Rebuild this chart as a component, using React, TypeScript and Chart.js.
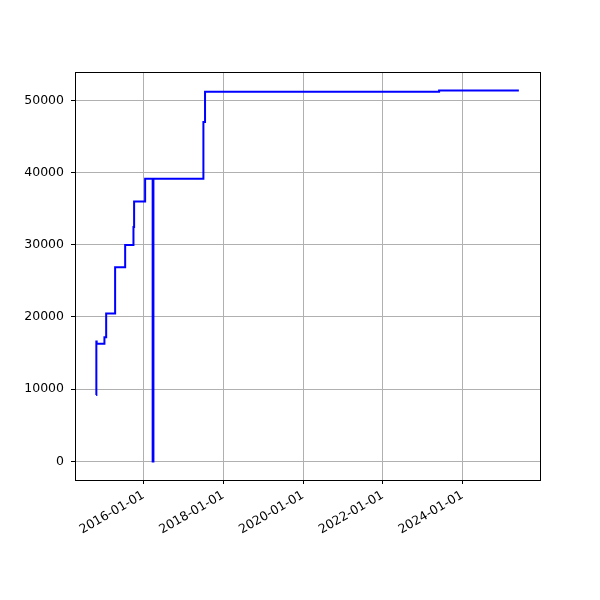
import React, { useEffect, useRef } from "react";
import { Chart, registerables } from "chart.js";

Chart.register(...registerables);

const dates: string[] = [
  "2014-10-23", "2014-10-25", "2014-10-28", "2015-01-07", "2015-01-23",
  "2015-04-15", "2015-07-16", "2015-09-30", "2015-10-06", "2016-01-15",
  "2016-03-24", "2016-03-31", "2017-07-02", "2017-07-17", "2023-06-01",
  "2025-06-01",
];
const values: number[] = [
  9200, 16600, 16300, 17200, 20500,
  26900, 29950, 32450, 36000, 39150,
  0, 39150, 47000, 51200, 51350,
  51350,
];
const xTickLabels: string[] = ["2016-01-01", "2018-01-01", "2020-01-01", "2022-01-01", "2024-01-01"];
const yTickValues: number[] = [0, 10000, 20000, 30000, 40000, 50000];

const toMs = (d: string) => Date.parse(d + "T00:00:00Z");
const fmt = (ms: number) => new Date(ms).toISOString().slice(0, 10);

export default function App() {
  const ref = useRef<HTMLCanvasElement | null>(null);
  useEffect(() => {
    if (!ref.current) return;
    const xs = dates.map(toMs);
    const xMinD = Math.min(...xs), xMaxD = Math.max(...xs);
    const yMinD = Math.min(...values), yMaxD = Math.max(...values);
    const xm = (xMaxD - xMinD) * 0.05;
    const ym = (yMaxD - yMinD) * 0.05;
    const pts = xs.map((x, i) => ({ x, y: values[i] }));
    const font = { family: "'DejaVu Sans', sans-serif", size: 12.5 };

    const frame = {
      id: "frame",
      afterDraw(chart: any) {
        const { ctx, chartArea: a } = chart;
        ctx.save();
        ctx.strokeStyle = "#000";
        ctx.lineWidth = 1;
        ctx.strokeRect(Math.round(a.left) + 0.5, Math.round(a.top) + 0.5, Math.round(a.right - a.left), Math.round(a.bottom - a.top));
        ctx.restore();
      },
    };

    const chart = new Chart(ref.current, {
      type: "line",
      data: {
        datasets: [
          {
            data: pts,
            borderColor: "#0000ff",
            borderWidth: 2,
            pointRadius: 0,
            stepped: "before",
            fill: false,
          },
        ],
      },
      options: {
        animation: false,
        responsive: false,
        layout: { padding: { left: 0, top: 72, right: 60, bottom: 0 } },
        plugins: { legend: { display: false }, tooltip: { enabled: false } },
        scales: {
          x: {
            type: "linear",
            min: xMinD - xm,
            max: xMaxD + xm,
            afterFit: (s: any) => { s.height = 120; },
            afterBuildTicks: (s: any) => { s.ticks = xTickLabels.map((l) => ({ value: toMs(l) })); },
            ticks: {
              callback: (v: any) => fmt(Number(v)),
              minRotation: 30,
              maxRotation: 30,
              autoSkip: false,
              color: "#000",
              font,
              padding: 4,
            },
            grid: { color: "#b0b0b0", lineWidth: 1, tickColor: "#000", tickLength: 4, drawTicks: true },
            border: { display: false },
          },
          y: {
            type: "linear",
            min: yMinD - ym,
            max: yMaxD + ym,
            afterFit: (s: any) => { s.width = 75; },
            afterBuildTicks: (s: any) => { s.ticks = yTickValues.map((v) => ({ value: v })); },
            ticks: { callback: (v: any) => String(v), color: "#000", font, padding: 7 },
            grid: { color: "#b0b0b0", lineWidth: 1, tickColor: "#000", tickLength: 4 },
            border: { display: false },
          },
        },
      },
      plugins: [frame],
    } as any);
    return () => chart.destroy();
  }, []);
  return (
    <div style={{ position: "absolute", left: 0, top: 0, width: 600, height: 600, background: "#fff" }}>
      <canvas ref={ref} width={600} height={600} />
    </div>
  );
}
